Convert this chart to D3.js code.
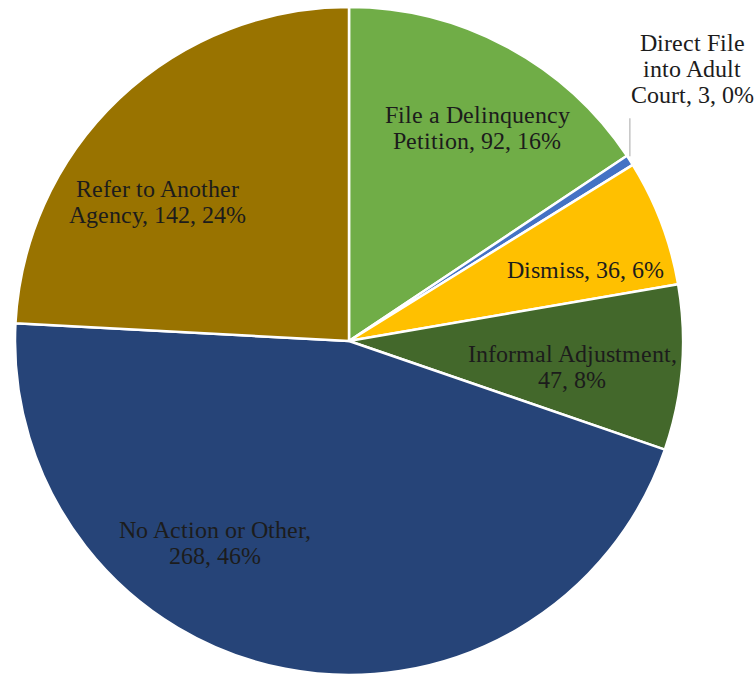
<!DOCTYPE html>
<html>
<head>
<meta charset="utf-8">
<script src="https://cdn.jsdelivr.net/npm/d3@7"></script>
<style>
  @font-face {
    font-family: "ChartSerif";
    src: local("Liberation Serif"), local("LiberationSerif"), local("LiberationSerif-Regular"), local("Tinos"), local("Times New Roman");
  }
  html, body { margin: 0; padding: 0; background: #ffffff; }
  svg { display: block; }
  svg text { font-family: "ChartSerif", "Liberation Serif", serif; }
</style>
</head>
<body>
<svg id="chart" width="756" height="677"></svg>
<script>
// Case outcomes, clockwise from 12 o'clock
const categories = [
  "File a Delinquency Petition",
  "Direct File into Adult Court",
  "Dismiss",
  "Informal Adjustment",
  "No Action or Other",
  "Refer to Another Agency"
];
const counts = [92, 3, 36, 47, 268, 142];
const percents = ["16%", "0%", "6%", "8%", "46%", "24%"];
const labelLines = [
  ["File a Delinquency", "Petition, 92, 16%"],
  ["Direct File", "into Adult", "Court, 3, 0%"],
  ["Dismiss, 36, 6%"],
  ["Informal Adjustment,", "47, 8%"],
  ["No Action or Other,", "268, 46%"],
  ["Refer to Another", "Agency, 142, 24%"]
];
const colors = ["#70ad47", "#4472c4", "#ffc000", "#43682b", "#264478", "#997300"];

// Layout
const cx = 349, cy = 341, radius = 334;
const lineHeight = 26;
// label centres, measured from the pie centre
const labelOffsets = [[128, -213], [343, -272], [236, -71], [223, 26], [-134, 202], [-192, -139]];

const svg = d3.select("#chart");
const g = svg.append("g").attr("transform", `translate(${cx},${cy})`);

const pie = d3.pie().sort(null).value(d => d.count);
const arc = d3.arc().innerRadius(0).outerRadius(radius);

const data = categories.map((c, i) => ({ name: c, count: counts[i], pct: percents[i], color: colors[i], lines: labelLines[i], off: labelOffsets[i] }));
const arcs = pie(data);

g.selectAll("path")
  .data(arcs)
  .join("path")
  .attr("d", arc)
  .attr("fill", d => d.data.color)
  .attr("stroke", "#ffffff")
  .attr("stroke-width", 2.5)
  .attr("stroke-linejoin", "round");

// leader line for the thin slice
const thin = arcs[1];
const thinMid = (thin.startAngle + thin.endAngle) / 2;
const edge = [Math.sin(thinMid) * radius, -Math.cos(thinMid) * radius];
g.append("line")
  .attr("x1", edge[0]).attr("y1", edge[1] - 4)
  .attr("x2", edge[0]).attr("y2", edge[1] - 42)
  .attr("stroke", "#a6a6a6")
  .attr("stroke-width", 1);

// one text element per label line
const lineData = arcs.flatMap(d => {
  const n = d.data.lines.length;
  return d.data.lines.map((ln, j) => ({
    text: ln,
    x: cx + d.data.off[0],
    y: cy + d.data.off[1] + (j - (n - 1) / 2) * lineHeight + 8
  }));
});

svg.selectAll("text")
  .data(lineData)
  .join("text")
  .attr("x", d => d.x)
  .attr("y", d => d.y)
  .attr("font-size", 24)
  .attr("text-anchor", "middle")
  .attr("fill", "#1c1c1c")
  .text(d => d.text);
</script>
</body>
</html>
